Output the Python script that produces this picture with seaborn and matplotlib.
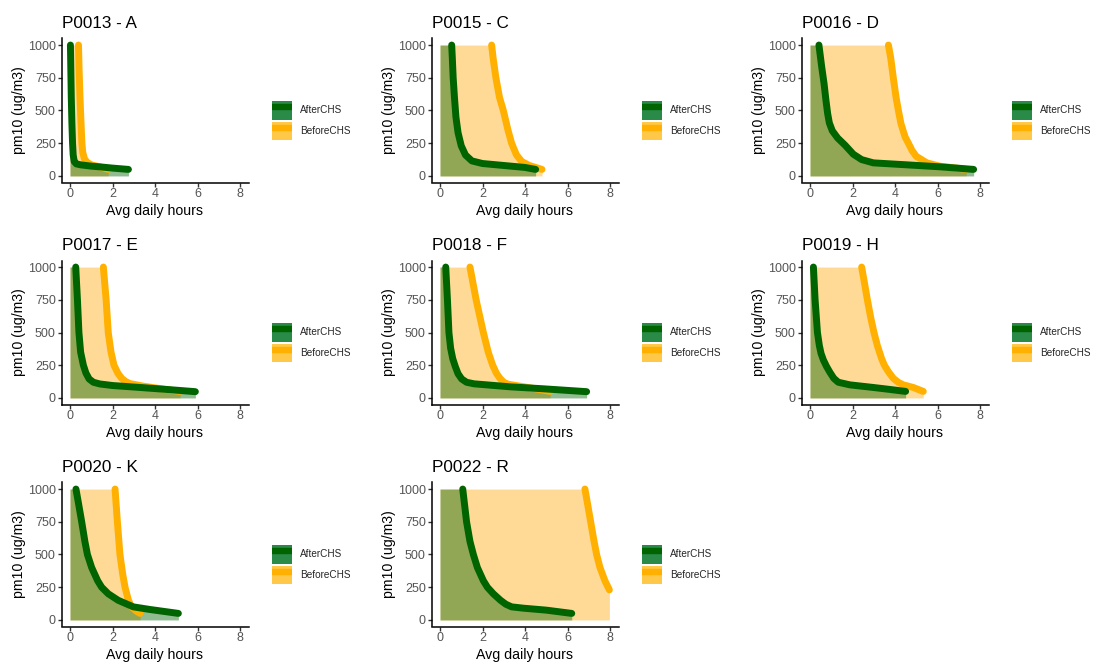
import numpy as np
import pandas as pd
import matplotlib
matplotlib.use("Agg")
import matplotlib.pyplot as plt
import seaborn as sns
from matplotlib.patches import Patch
from matplotlib.lines import Line2D
from matplotlib.legend_handler import HandlerTuple

# ---------------- data ----------------
panel_titles = ["P0013 - A", "P0015 - C", "P0016 - D", "P0017 - E",
                "P0018 - F", "P0019 - H", "P0020 - K", "P0022 - R"]

P0013_after_x = [0.02, 0.04, 0.06, 0.09, 0.12, 0.15, 0.2, 0.3, 0.5, 1.0, 1.5, 2.0, 2.75]
P0013_after_y = [1000, 800, 600, 400, 250, 160, 110, 92, 85, 75, 68, 60, 50]
P0013_before_x = [0.4, 0.43, 0.47, 0.52, 0.56, 0.6, 0.68, 0.8, 1.0, 1.4, 1.8]
P0013_before_y = [1000, 800, 600, 400, 250, 180, 130, 105, 85, 70, 50]

P0015_after_x = [0.55, 0.58, 0.62, 0.68, 0.75, 0.85, 1.0, 1.2, 1.5, 2.0, 3.0, 4.0, 4.5]
P0015_after_y = [1000, 900, 750, 600, 450, 330, 230, 160, 115, 95, 80, 65, 50]
P0015_before_x = [2.43, 2.5, 2.63, 2.8, 2.98, 3.2, 3.37, 3.6, 3.85, 4.2, 4.8]
P0015_before_y = [1000, 900, 750, 600, 500, 350, 250, 160, 110, 80, 50]

P0016_after_x = [0.42, 0.55, 0.66, 0.75, 0.83, 0.91, 1.05, 1.3, 1.65, 2.04, 2.43, 2.98, 4.55, 6.1, 7.7]
P0016_after_y = [1000, 834, 707, 579, 477, 405, 345, 290, 235, 166, 125, 100, 85, 70, 50]
P0016_before_x = [3.69, 3.8, 3.92, 4.05, 4.16, 4.28, 4.47, 4.63, 4.8, 5.0, 5.5, 6.1, 6.8, 7.35]
P0016_before_y = [1000, 900, 750, 600, 500, 400, 300, 250, 195, 150, 100, 75, 62, 50]

P0017_after_x = [0.27, 0.35, 0.42, 0.5, 0.63, 0.75, 0.9, 1.1, 1.4, 2.0, 3.3, 4.55, 5.9]
P0017_after_y = [1000, 750, 500, 350, 250, 190, 145, 120, 107, 95, 80, 65, 48]
P0017_before_x = [1.57, 1.7, 1.8, 1.93, 2.07, 2.25, 2.43, 2.62, 2.82, 3.45, 4.3, 5.18]
P0017_before_y = [1000, 750, 500, 350, 250, 190, 150, 125, 110, 90, 70, 50]

P0018_after_x = [0.27, 0.35, 0.42, 0.5, 0.6, 0.72, 0.85, 1.02, 1.25, 1.6, 2.2, 3.3, 4.86, 6.9]
P0018_after_y = [1000, 750, 500, 380, 300, 240, 185, 145, 120, 108, 100, 85, 70, 48]
P0018_before_x = [1.41, 1.7, 2.04, 2.27, 2.48, 2.65, 2.82, 3.0, 3.2, 3.76, 4.5, 5.18]
P0018_before_y = [1000, 750, 500, 350, 250, 190, 150, 120, 105, 90, 70, 50]

P0019_after_x = [0.16, 0.24, 0.35, 0.44, 0.52, 0.63, 0.78, 0.94, 1.12, 1.33, 1.88, 2.98, 3.76, 4.5]
P0019_after_y = [1000, 750, 500, 400, 340, 290, 240, 195, 150, 120, 100, 80, 65, 50]
P0019_before_x = [2.43, 2.54, 2.7, 2.85, 3.01, 3.17, 3.37, 3.5, 3.69, 3.92, 4.15, 4.39, 4.86, 5.33]
P0019_before_y = [1000, 900, 750, 620, 500, 400, 300, 250, 200, 150, 120, 100, 80, 50]

P0020_after_x = [0.28, 0.39, 0.55, 0.7, 0.82, 1.02, 1.3, 1.49, 1.8, 2.27, 2.98, 3.76, 5.1]
P0020_after_y = [1000, 900, 750, 600, 500, 400, 300, 250, 200, 150, 100, 80, 50]
P0020_before_x = [2.12, 2.23, 2.35, 2.48, 2.59, 2.75, 2.9, 3.1, 3.3]
P0020_before_y = [1000, 750, 500, 350, 250, 150, 100, 70, 50]

P0022_after_x = [1.07, 1.25, 1.41, 1.57, 1.76, 2.04, 2.23, 2.51, 2.85, 3.1, 3.37, 3.92, 5.0, 6.2]
P0022_after_y = [1000, 750, 600, 500, 400, 300, 250, 200, 150, 120, 100, 90, 75, 50]
P0022_before_x = [6.82, 6.93, 7.09, 7.25, 7.37, 7.53, 7.76, 7.97]
P0022_before_y = [1000, 900, 750, 600, 500, 400, 300, 230]

series = {
    "P0013 - A": (P0013_after_x, P0013_after_y, P0013_before_x, P0013_before_y),
    "P0015 - C": (P0015_after_x, P0015_after_y, P0015_before_x, P0015_before_y),
    "P0016 - D": (P0016_after_x, P0016_after_y, P0016_before_x, P0016_before_y),
    "P0017 - E": (P0017_after_x, P0017_after_y, P0017_before_x, P0017_before_y),
    "P0018 - F": (P0018_after_x, P0018_after_y, P0018_before_x, P0018_before_y),
    "P0019 - H": (P0019_after_x, P0019_after_y, P0019_before_x, P0019_before_y),
    "P0020 - K": (P0020_after_x, P0020_after_y, P0020_before_x, P0020_before_y),
    "P0022 - R": (P0022_after_x, P0022_after_y, P0022_before_x, P0022_before_y),
}

rows = []
for pid, (ax_, ay_, bx_, by_) in series.items():
    for x, y in zip(ax_, ay_):
        rows.append((pid, "AfterCHS", x, y))
    for x, y in zip(bx_, by_):
        rows.append((pid, "BeforeCHS", x, y))
df = pd.DataFrame(rows, columns=["panel", "period", "hours", "pm10"])

# ---------------- style ----------------
sns.set_theme(style="white")
plt.rcParams["font.family"] = ["Liberation Sans", "DejaVu Sans"]

line_colors = {"AfterCHS": "#006400", "BeforeCHS": "#FFB000"}
fill_colors = {"AfterCHS": ("#006400", 0.43), "BeforeCHS": ("#FFA500", 0.41)}
key_colors = {"AfterCHS": "#2A8A48", "BeforeCHS": "#FFC848"}

W, H = 1098, 664
fig = plt.figure(figsize=(W / 100, H / 100), dpi=100)

for i, pid in enumerate(panel_titles):
    r, c = divmod(i, 3)
    left = 61.5 + 370 * c
    top = 38.5 + 222 * r
    ax = fig.add_axes([left / W, 1 - (top + 144) / H, 187 / W, 144 / H])
    sub = df[df["panel"] == pid]

    for period in ["BeforeCHS", "AfterCHS"]:
        s = sub[sub["period"] == period]
        col, a = fill_colors[period]
        ax.fill_between(np.r_[0.0, s["hours"].to_numpy()], 0,
                        np.r_[1000.0, s["pm10"].to_numpy()],
                        color=col, alpha=a, lw=0)

    sns.lineplot(data=sub, x="hours", y="pm10", hue="period",
                 hue_order=["BeforeCHS", "AfterCHS"], palette=line_colors,
                 estimator=None, sort=False, lw=5, legend=False, ax=ax,
                 solid_capstyle="round", solid_joinstyle="round")

    ax.set_xlim(-0.4, 8.4)
    ax.set_ylim(-50, 1050)
    ax.set_xticks([0, 2, 4, 6, 8])
    ax.set_yticks([0, 250, 500, 750, 1000])
    ax.tick_params(left=True, bottom=True, direction="out", length=2.6,
                   width=1, color="#333333", labelcolor="#555555",
                   labelsize=9, pad=1.5)
    for sp in ["top", "right"]:
        ax.spines[sp].set_visible(False)
    for sp in ["left", "bottom"]:
        ax.spines[sp].set_color("black")
        ax.spines[sp].set_linewidth(1.1)
    ax.set_xlabel("Avg daily hours", fontsize=10.2, labelpad=2.5, color="black")
    ax.set_ylabel("pm10 (ug/m3)", fontsize=10.2, labelpad=1.5, color="black")
    ax.set_title(pid, loc="left", fontsize=12.3, pad=7.5, color="black")

    handles = [
        (Patch(facecolor=key_colors["AfterCHS"], edgecolor="none"),
         Line2D([], [], color=line_colors["AfterCHS"], lw=4.6,
                solid_capstyle="butt")),
        (Patch(facecolor=key_colors["BeforeCHS"], edgecolor="none"),
         Line2D([], [], color=line_colors["BeforeCHS"], lw=4.6,
                solid_capstyle="butt")),
    ]
    ax.legend(handles, ["AfterCHS", "BeforeCHS"],
              handler_map={tuple: HandlerTuple(ndivide=1, pad=0)},
              loc="center left", bbox_to_anchor=(1.125, 0.43), frameon=False,
              fontsize=7.2, handlelength=2.0, handleheight=2.5,
              labelspacing=0.2, handletextpad=0.8, borderpad=0,
              borderaxespad=0)

fig.savefig("out.png", dpi=100)
